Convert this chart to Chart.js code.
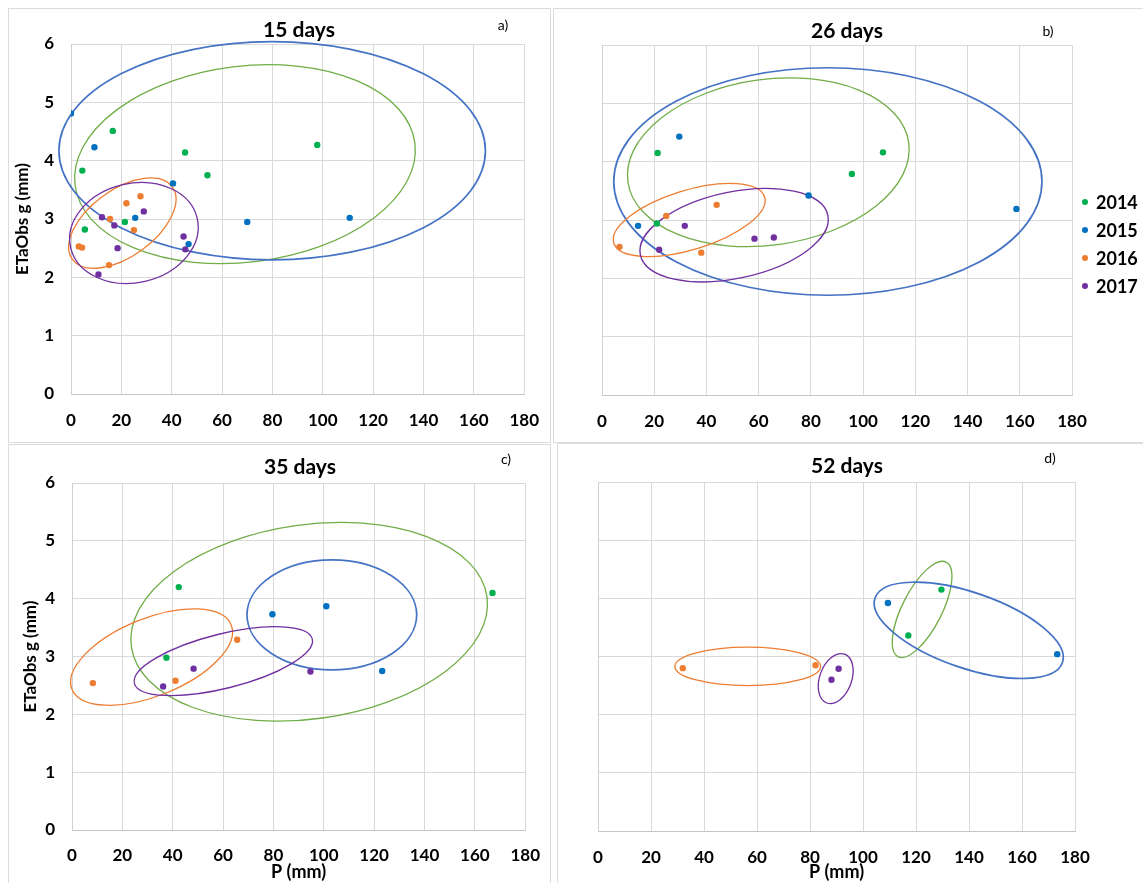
<!DOCTYPE html>
<html>
<head>
<meta charset="utf-8">
<script src="https://cdn.jsdelivr.net/npm/chart.js@4.4.1/dist/chart.umd.min.js"></script>
<style>
body { margin: 0; background: #fff; font-family: Lato, "Liberation Sans", sans-serif; color: #000; }
#page { position: relative; width: 1143px; height: 883px; overflow: hidden; }
.panel { position: absolute; }
.frame { position: absolute; border: 1px solid #dcdcdc; }
.ttl { position: absolute; font-weight: bold; font-size: 21px; transform: translate(-50%, -50%); white-space: nowrap; }
.tag { position: absolute; font-size: 14px; transform: translate(-50%, -50%); }
.leg { position: absolute; left: 1082px; font-weight: bold; font-size: 18px; line-height: 20px; transform: translateY(-50%); white-space: nowrap; }
.leg span { display: inline-block; width: 6px; height: 6px; border-radius: 50%; margin-right: 8px; vertical-align: middle; position: relative; top: -2px; }
</style>
</head>
<body>
<div id="page">
  <div class="frame" style="left:8px;top:8px;width:541px;height:433px"></div>
  <div class="frame" style="left:553px;top:8px;width:595px;height:433px"></div>
  <div class="frame" style="left:8px;top:444px;width:541px;height:445px"></div>
  <div class="frame" style="left:557px;top:443px;width:590px;height:445px"></div>

  <div class="panel" style="left:0;top:0"><canvas id="c15" width="555" height="440"></canvas></div>
  <div class="panel" style="left:555px;top:0"><canvas id="c26" width="588" height="440"></canvas></div>
  <div class="panel" style="left:0;top:440px"><canvas id="c35" width="555" height="443"></canvas></div>
  <div class="panel" style="left:555px;top:440px"><canvas id="c52" width="588" height="443"></canvas></div>

  <div class="ttl" style="left:299px;top:28px">15 days</div>
  <div class="ttl" style="left:847px;top:29px">26 days</div>
  <div class="ttl" style="left:300px;top:465px">35 days</div>
  <div class="ttl" style="left:847px;top:464px">52 days</div>

  <div class="tag" style="left:503px;top:24px">a)</div>
  <div class="tag" style="left:1048px;top:30px">b)</div>
  <div class="tag" style="left:506px;top:458px">c)</div>
  <div class="tag" style="left:1050px;top:457px">d)</div>

  <div id="legend"></div>
</div>

<script>
var years = ['2014', '2015', '2016', '2017'];
var pointColors = ['#00B050', '#0070C0', '#ED7D31', '#7030A0'];
var ringColors = ['#70AD47', '#4472C4', '#ED7D31', '#7030A0'];
var xTicks = [0, 20, 40, 60, 80, 100, 120, 140, 160, 180];
var yTicks = [0, 1, 2, 3, 4, 5, 6];

// [P (mm), ETaObs g (mm)] per year, 15 days
var d15_2014 = [[16.6, 4.51], [4.5, 3.83], [45.3, 4.14], [54.2, 3.75], [97.8, 4.27], [21.4, 2.95], [5.5, 2.82]];
var d15_2015 = [[0, 4.81], [9.3, 4.23], [40.5, 3.61], [25.5, 3.02], [70, 2.95], [110.7, 3.02], [46.7, 2.57]];
var d15_2016 = [[3.1, 2.53], [4.4, 2.51], [15.5, 3.0], [22, 3.27], [27.6, 3.39], [25, 2.81], [15.1, 2.21]];
var d15_2017 = [[12.3, 3.03], [17.2, 2.89], [28.9, 3.13], [18.5, 2.5], [10.9, 2.05], [44.7, 2.7], [45.4, 2.48]];

// 26 days
var d26_2014 = [[21.3, 4.15], [107.6, 4.16], [95.7, 3.79], [21.0, 2.94]];
var d26_2015 = [[29.6, 4.43], [13.8, 2.9], [79.1, 3.42], [158.7, 3.19]];
var d26_2016 = [[6.7, 2.54], [24.6, 3.07], [43.9, 3.26], [38, 2.44]];
var d26_2017 = [[21.9, 2.49], [31.7, 2.9], [58.4, 2.68], [65.8, 2.7]];

// 35 days
var d35_2014 = [[42.4, 4.2], [37.5, 2.98], [167, 4.1]];
var d35_2015 = [[79.6, 3.73], [101, 3.87], [123.2, 2.75]];
var d35_2016 = [[8.3, 2.54], [41.1, 2.58], [65.6, 3.29]];
var d35_2017 = [[36.2, 2.48], [48.3, 2.79], [94.7, 2.74]];

// 52 days
var d52_2014 = [[129.6, 4.15], [117.1, 3.36]];
var d52_2015 = [[109.4, 3.92], [173.3, 3.04]];
var d52_2016 = [[32, 2.8], [82.1, 2.85]];
var d52_2017 = [[90.8, 2.79], [88.1, 2.6]];

// grouping ellipses per year: [centre P, centre ET, half-axis in P units, half-axis in ET units, tilt deg]
var ring15 = [[69.1, 3.94, 68, 1.68, -7], [79.9, 4.17, 84.7, 1.87, 0], [20.4, 2.93, 24.5, 0.57, -36], [25, 2.76, 25.8, 0.85, -13]];
var ring26 = [[63.7, 3.99, 54.3, 1.42, -8], [86.5, 3.66, 82, 1.95, 0], [33.4, 3.0, 30.2, 0.51, -17], [50.6, 2.74, 36.7, 0.74, -12]];
var ring35 = [[94.2, 3.6, 71.3, 1.68, -8], [103.2, 3.72, 33.7, 0.95, 0], [31.6, 2.99, 34.1, 0.67, -22], [60.1, 2.92, 36.4, 0.47, -14]];
var ring52 = [[122.3, 3.81, 20, 0.34, -63], [139.9, 3.45, 37.4, 0.65, 19], [56.5, 2.83, 27.5, 0.33, 0], [89.7, 2.62, 9.8, 0.275, -70]];

Chart.defaults.font.family = 'Lato, "Liberation Sans", sans-serif';
Chart.defaults.color = '#000';

function ringsPlugin(rings) {
    return {
        id: 'rings',
        beforeDatasetsDraw: function(chart) {
            var ctx = chart.ctx;
            var xs = chart.scales.x, ys = chart.scales.y;
            var kx = Math.abs(xs.getPixelForValue(1) - xs.getPixelForValue(0));
            var ky = Math.abs(ys.getPixelForValue(0) - ys.getPixelForValue(1));
            for (var i = 0; i < rings.length; i++) {
                var r = rings[i];
                ctx.save();
                ctx.beginPath();
                ctx.ellipse(xs.getPixelForValue(r[0]), ys.getPixelForValue(r[1]),
                    r[2] * kx, r[3] * ky, r[4] * Math.PI / 180, 0, 2 * Math.PI);
                ctx.strokeStyle = ringColors[i];
                ctx.lineWidth = i === 1 ? 1.7 : 1.3;
                ctx.stroke();
                ctx.restore();
            }
        }
    };
}

function makePanel(id, series, rings, cfg) {
    var datasets = [];
    for (var i = 0; i < series.length; i++) {
        datasets.push({
            label: years[i],
            data: series[i].map(function(p) { return {x: p[0], y: p[1]}; }),
            backgroundColor: pointColors[i],
            borderColor: pointColors[i],
            pointRadius: 3.2,
            pointBorderWidth: 0
        });
    }

    new Chart(document.getElementById(id), {
        type: 'scatter',
        data: {datasets: datasets},
        plugins: [ringsPlugin(rings)],
        options: {
            responsive: false,
            animation: false,
            layout: {padding: {left: 0, top: cfg.top, right: cfg.right, bottom: 0}},
            plugins: {legend: {display: false}, tooltip: {enabled: false}},
            scales: {
                x: {
                    type: 'linear',
                    min: xTicks[0],
                    max: xTicks[xTicks.length - 1],
                    ticks: {stepSize: xTicks[1] - xTicks[0], padding: cfg.xPad, font: {size: 17, weight: 'bold'}},
                    grid: {color: '#d9d9d9', drawTicks: false},
                    border: {color: '#c4c4c4'},
                    title: {display: cfg.xTitle, text: 'P (mm)', font: {size: 18, weight: 'bold'}, padding: {top: 0, bottom: 0}},
                    afterFit: function(s) { s.height = cfg.xHeight; }
                },
                y: {
                    type: 'linear',
                    min: yTicks[0],
                    max: yTicks[yTicks.length - 1],
                    ticks: {display: cfg.yLabels, stepSize: yTicks[1] - yTicks[0], padding: 17, font: {size: 17, weight: 'bold'}},
                    grid: {color: '#d9d9d9', drawTicks: false},
                    border: {color: '#d0d0d0'},
                    title: {display: cfg.yLabels, text: 'ETaObs g (mm)', font: {size: 17, weight: 'bold'}, padding: {top: cfg.yTitlePad, bottom: 0}},
                    afterFit: function(s) { s.width = cfg.yWidth; }
                }
            }
        }
    });
}

makePanel('c15', [d15_2014, d15_2015, d15_2016, d15_2017], ring15,
    {top: 44, right: 28, yWidth: 71, xHeight: 46, xPad: 16, yLabels: true, yTitlePad: 12, xTitle: false});
makePanel('c26', [d26_2014, d26_2015, d26_2016, d26_2017], ring26,
    {top: 45, right: 71, yWidth: 47, xHeight: 45, xPad: 16, yLabels: false, yTitlePad: 0, xTitle: false});
makePanel('c35', [d35_2014, d35_2015, d35_2016, d35_2017], ring35,
    {top: 43, right: 23, yWidth: 72, xHeight: 53, xPad: 15, yLabels: true, yTitlePad: 20, xTitle: true});
makePanel('c52', [d52_2014, d52_2015, d52_2016, d52_2017], ring52,
    {top: 42, right: 68, yWidth: 43, xHeight: 52, xPad: 16, yLabels: false, yTitlePad: 0, xTitle: true});

// legend of panel b
var legendTops = [202, 230, 258, 286];
var legend = document.getElementById('legend');
for (var i = 0; i < years.length; i++) {
    var item = document.createElement('div');
    item.className = 'leg';
    item.style.top = legendTops[i] + 'px';
    item.innerHTML = '<span style="background:' + pointColors[i] + '"></span>' + years[i];
    legend.appendChild(item);
}
</script>
</body>
</html>
